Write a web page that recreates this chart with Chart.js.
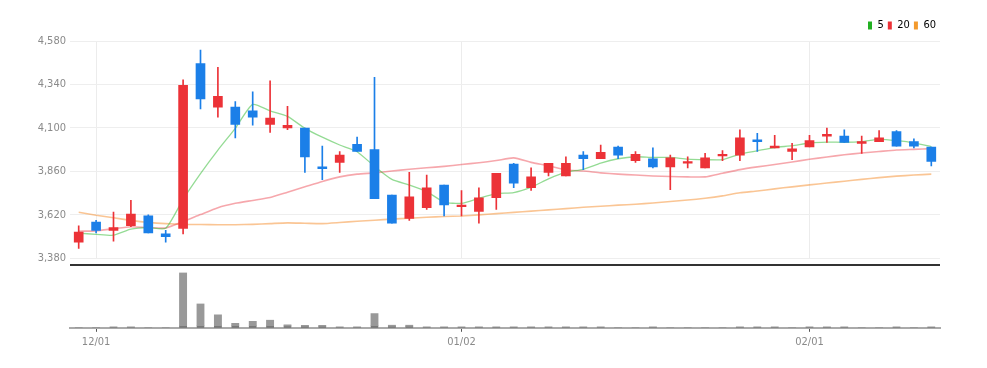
<!DOCTYPE html>
<html>
<head>
<meta charset="utf-8">
<script src="https://cdn.jsdelivr.net/npm/chart.js@4.4.0/dist/chart.umd.min.js"></script>
<style>
  html, body { margin: 0; padding: 0; background: #fff; }
  #wrap { position: relative; width: 987px; height: 368px; }
  #priceChart { position: absolute; left: 0; top: 0; }
  #volChart { position: absolute; left: 0; top: 258px; }
</style>
</head>
<body>
<div id="wrap">
  <canvas id="priceChart" width="987" height="269"></canvas>
  <canvas id="volChart" width="987" height="110"></canvas>
</div>
<script>
// trading days, 2022-11-30 .. 2023-02-10
const labels = ['11/30', '12/01', '12/02', '12/05', '12/06', '12/07', '12/08', '12/09', '12/12', '12/13',
  '12/14', '12/15', '12/16', '12/19', '12/20', '12/21', '12/22', '12/23', '12/26', '12/27',
  '12/28', '12/29', '01/02', '01/03', '01/04', '01/05', '01/06', '01/09', '01/10', '01/11',
  '01/12', '01/13', '01/16', '01/17', '01/18', '01/19', '01/20', '01/25', '01/26', '01/27',
  '01/30', '01/31', '02/01', '02/02', '02/03', '02/06', '02/07', '02/08', '02/09', '02/10'];

const openP = [3470, 3580, 3535, 3560, 3615, 3515, 3545, 4455, 4215, 4215,
  4195, 4120, 4100, 4100, 3885, 3910, 4010, 3980, 3730, 3600,
  3660, 3785, 3665, 3640, 3715, 3900, 3770, 3855, 3835, 3950,
  3930, 3995, 3920, 3930, 3885, 3905, 3880, 3945, 3950, 4035,
  3990, 3970, 3995, 4055, 4055, 4015, 4025, 4080, 4025, 3995];
const highP = [3560, 3590, 3635, 3700, 3620, 3535, 4365, 4530, 4435, 4245,
  4300, 4360, 4220, 4100, 4000, 3970, 4050, 4380, 3730, 3855,
  3840, 3785, 3755, 3770, 3850, 3905, 3880, 3905, 3940, 3970,
  4005, 4000, 3970, 3990, 3950, 3940, 3960, 3975, 4090, 4070,
  4060, 4015, 4060, 4100, 4090, 4055, 4085, 4085, 4040, 3995];
const lowP = [3435, 3520, 3475, 3555, 3520, 3470, 3515, 4205, 4160, 4045,
  4115, 4075, 4090, 3855, 3815, 3855, 3970, 3710, 3575, 3590,
  3650, 3615, 3615, 3575, 3650, 3770, 3755, 3835, 3835, 3870,
  3930, 3930, 3910, 3880, 3760, 3880, 3880, 3920, 3920, 3970,
  3990, 3925, 3995, 4020, 4020, 3960, 4025, 4000, 3990, 3890];
const closeP = [3525, 3535, 3550, 3625, 3520, 3500, 4335, 4260, 4275, 4120,
  4160, 4155, 4115, 3940, 3875, 3950, 3970, 3710, 3575, 3720,
  3770, 3675, 3675, 3715, 3850, 3795, 3830, 3905, 3905, 3930,
  3965, 3950, 3955, 3885, 3935, 3915, 3935, 3955, 4045, 4025,
  4000, 3985, 4030, 4065, 4020, 4025, 4045, 4000, 4000, 3915];

const ma5 = [3519, 3513, 3508, 3541, 3550, 3546, 3706, 3848, 3978, 4098,
  4230, 4194, 4164, 4098, 4049, 4006, 3969, 3888, 3816, 3785,
  3749, 3691, 3684, 3712, 3738, 3743, 3773, 3819, 3856, 3872,
  3906, 3930, 3941, 3937, 3938, 3928, 3925, 3925, 3956, 3974,
  3992, 4002, 4017, 4022, 4021, 4025, 4037, 4030, 4018, 3997];
const ma20 = [3530, 3532, 3544, 3555, 3550, 3548, 3583, 3622, 3660, 3684,
  3700, 3716, 3745, 3775, 3805, 3830, 3845, 3852, 3862, 3872,
  3880, 3888, 3898, 3908, 3920, 3935, 3910, 3891, 3868, 3862,
  3852, 3845, 3840, 3835, 3832, 3830, 3830, 3850, 3870, 3885,
  3898, 3912, 3927, 3940, 3952, 3962, 3970, 3978, 3982, 3986];
const ma60 = [3635, 3618, 3604, 3590, 3579, 3572, 3568, 3567, 3566, 3566,
  3568, 3572, 3576, 3574, 3572, 3578, 3585, 3591, 3597, 3602,
  3607, 3611, 3614, 3620, 3627, 3634, 3641, 3648, 3655, 3662,
  3668, 3674, 3679, 3686, 3694, 3702, 3712, 3725, 3742, 3752,
  3764, 3775, 3786, 3796, 3806, 3816, 3826, 3834, 3840, 3845];

const volume = [15000, 15000, 60000, 60000, 15000, 15000, 2770000, 1220000, 670000, 235000,
  335000, 400000, 170000, 135000, 135000, 65000, 65000, 735000, 150000, 150000,
  65000, 65000, 65000, 60000, 60000, 60000, 60000, 60000, 60000, 60000,
  60000, 15000, 15000, 60000, 15000, 15000, 15000, 15000, 60000, 60000,
  60000, 15000, 60000, 60000, 60000, 15000, 15000, 60000, 15000, 60000];

const tickLabels = ['12/01', '01/02', '02/01'];
const priceTicks = [3380, 3620, 3860, 4100, 4340, 4580];
const maNames = ['5', '20', '60'];

const UP = '#ec3237';
const DOWN = '#1b7fe8';
const maLine = ['rgba(60, 190, 60, 0.55)', 'rgba(236, 60, 72, 0.45)', 'rgba(245, 150, 60, 0.55)'];
const maSwatch = ['#22b022', '#ec3237', '#f39a2d'];
const VOL_MAX = 3150000;

// use a narrow face if one is installed, otherwise a plain sans a bit smaller
function pickFont() {
  const c = document.createElement('canvas').getContext('2d');
  const probe = '4,580 12/01';
  c.font = '11px monospace';
  const base = c.measureText(probe).width;
  for (const f of ['Liberation Sans Narrow', 'DejaVu Sans Condensed']) {
    c.font = "11px '" + f + "', monospace";
    if (c.measureText(probe).width !== base) return { family: "'" + f + "'", size: 11 };
  }
  return { family: "'Liberation Sans', sans-serif", size: 10 };
}
const txt = pickFont();

Chart.defaults.font.family = txt.family;
Chart.defaults.color = '#8a8a8a';

const candleColor = ctx => closeP[ctx.dataIndex] >= openP[ctx.dataIndex] ? UP : DOWN;

// only show the month-start dates on the x axis
const keepDateTicks = scale => {
  scale.ticks = scale.ticks.filter(t => tickLabels.includes(labels[t.value]));
};
const fixWidth = scale => { scale.width = 70; };

new Chart(document.getElementById('priceChart'), {
  type: 'bar',
  data: {
    labels: labels,
    datasets: [
      {
        label: 'wick',
        data: labels.map((_, i) => [lowP[i], highP[i]]),
        backgroundColor: candleColor,
        barThickness: 1,
        grouped: false,
        order: 1
      },
      {
        label: 'body',
        data: labels.map((_, i) => [openP[i], closeP[i]]),
        backgroundColor: candleColor,
        barThickness: 9,
        grouped: false,
        order: 0
      },
      { type: 'line', label: maNames[0], data: ma5, borderColor: maLine[0], borderWidth: 1.3, pointRadius: 0, tension: 0.2, order: 2 },
      { type: 'line', label: maNames[1], data: ma20, borderColor: maLine[1], borderWidth: 1.6, pointRadius: 0, tension: 0.2, order: 3 },
      { type: 'line', label: maNames[2], data: ma60, borderColor: maLine[2], borderWidth: 1.6, pointRadius: 0, tension: 0.2, order: 4 }
    ]
  },
  options: {
    responsive: false,
    animation: false,
    layout: { padding: { top: 16, right: 47, bottom: 0, left: 0 } },
    plugins: {
      tooltip: { enabled: false },
      legend: {
        position: 'top',
        align: 'end',
        labels: {
          boxWidth: 4,
          boxHeight: 8,
          padding: 4,
          color: '#888',
          font: { size: txt.size },
          generateLabels: () => maNames.map((n, i) => ({
            text: n,
            fillStyle: maSwatch[i],
            strokeStyle: maSwatch[i],
            lineWidth: 0,
            hidden: false,
            datasetIndex: i + 2
          }))
        }
      }
    },
    scales: {
      x: {
        offset: true,
        grid: { offset: false, color: '#ececec', drawTicks: false },
        border: { display: false },
        ticks: { display: false, autoSkip: false },
        afterBuildTicks: keepDateTicks
      },
      y: {
        min: 3380,
        max: 4580,
        afterBuildTicks: s => { s.ticks = priceTicks.map(v => ({ value: v })); },
        afterFit: fixWidth,
        grid: { color: '#eeeeee', drawTicks: false },
        border: { display: false },
        ticks: { padding: 4, font: { size: txt.size }, callback: v => v.toLocaleString('en-US') }
      }
    }
  }
});

new Chart(document.getElementById('volChart'), {
  type: 'bar',
  data: {
    labels: labels,
    datasets: [{
      data: volume,
      backgroundColor: '#999999',
      borderColor: '#6e6e6e',
      borderWidth: { top: 0, left: 0, right: 0, bottom: 2 },
      borderSkipped: false,
      barThickness: 8
    }]
  },
  options: {
    responsive: false,
    animation: false,
    layout: { padding: { top: 7, right: 47, bottom: 15, left: 0 } },
    plugins: { legend: { display: false }, tooltip: { enabled: false } },
    scales: {
      x: {
        grid: { offset: false, drawOnChartArea: false, tickLength: 4, color: '#555' },
        border: { display: true, color: '#aaaaaa', width: 2 },
        ticks: { autoSkip: false, maxRotation: 0, padding: 4, font: { size: txt.size } },
        afterBuildTicks: keepDateTicks
      },
      y: {
        min: 0,
        max: VOL_MAX,
        afterBuildTicks: s => { s.ticks = [{ value: VOL_MAX }]; },
        afterFit: fixWidth,
        ticks: { display: false },
        grid: { color: '#333', lineWidth: 2, drawTicks: false },
        border: { display: false }
      }
    }
  }
});
</script>
</body>
</html>
